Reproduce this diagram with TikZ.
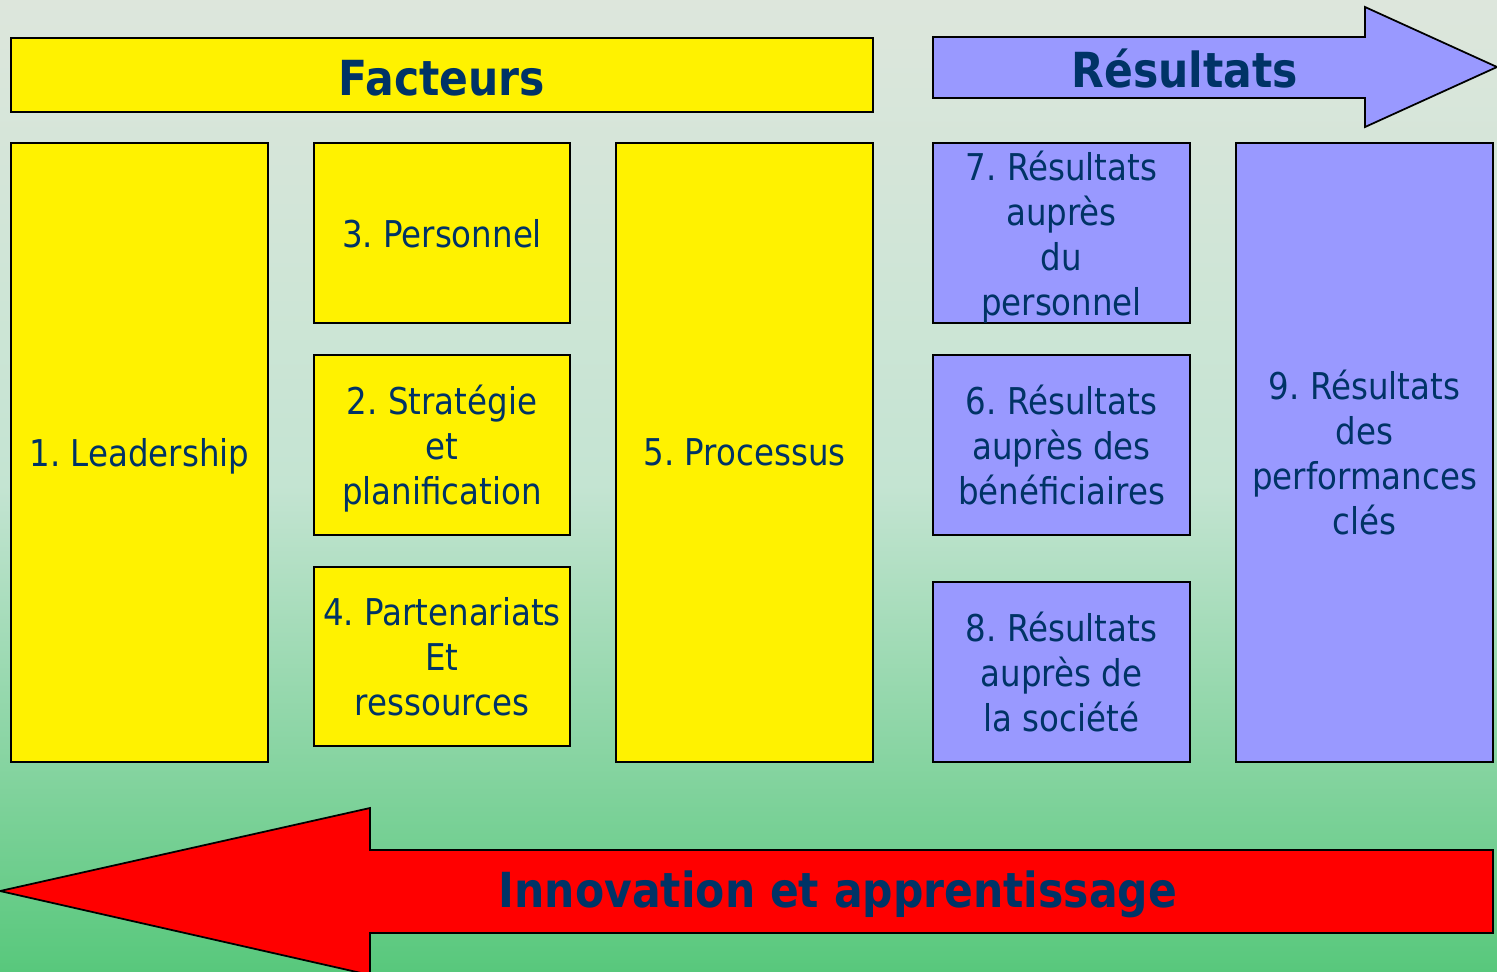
\documentclass[tikz,border=0pt]{standalone}
\usepackage{fontspec}
\setmainfont{DejaVu Sans}[FakeStretch=0.88]
\frenchspacing
\definecolor{navy}{HTML}{003366}
\definecolor{lilac}{HTML}{9999FF}
\definecolor{bgtop}{HTML}{DDE6DC}
\definecolor{bgmid}{HTML}{C4E4D2}
\definecolor{bgbot}{HTML}{58C87C}
\begin{document}
\begin{tikzpicture}[x=0.02cm,y=-0.02cm]
	\tikzset{
		base/.style={draw=black,line width=1pt,text=navy,align=center,inner sep=0pt,
			text depth=0pt,font=\fontsize{21}{25.6}\selectfont},
		yellowbox/.style={base,fill=yellow},
		lilacbox/.style={base,fill=lilac},
		size/.style 2 args={minimum width=#1*0.02cm,minimum height=#2*0.02cm},
		heading/.style={text=navy,font=\fontsize{27.5}{30}\selectfont\bfseries}
	}
	% Background
	\clip (0,0) rectangle (1497,971);
	\shade[top color=bgtop,bottom color=bgbot,middle color=bgmid] (0,0) rectangle (1497,971);

	% Header bars
	\node[yellowbox,size={862}{74}] (fact) at (442,75) {};
	\node[heading] (factlbl) at (442,78) {Facteurs};
	\draw[fill=lilac,line width=1pt] (933,37) -- (1365,37) -- (1365,7) -- (1497,67)
		-- (1365,127) -- (1365,98) -- (933,98) -- cycle;
	\node[heading] (res) at (1185,69) {Résultats};

	% Facteurs
	\node[yellowbox,size={257}{619}] (lead) at (139.5,452.5) {1. Leadership};
	\node[yellowbox,size={256}{180}] (pers) at (442,233) {3. Personnel};
	\node[yellowbox,size={256}{180}] (strat) at (442,445) {2. Stratégie\\et\\planification};
	\node[yellowbox,size={256}{179}] (part) at (442,656.5) {4. Partenariats\\Et\\ressources};
	\node[yellowbox,size={257}{619}] (proc) at (744.5,452.5) {5. Processus};

	% Résultats
	\node[lilacbox,size={257}{180}] (rpers) at (1061.5,233) {7. Résultats\\auprès\\du\\personnel};
	\node[lilacbox,size={257}{180}] (rbenef) at (1061.5,445) {6. Résultats\\auprès des\\bénéficiaires};
	\node[lilacbox,size={257}{180}] (rsoc) at (1061.5,672) {8. Résultats\\auprès de\\la société};
	\node[lilacbox,size={257}{619}] (rperf) at (1364.5,452.5) {9. Résultats\\des\\performances\\clés};

	% Innovation arrow
	\draw[fill=red,line width=1pt] (1493,850) -- (370,850) -- (370,808) -- (0,891)
		-- (370,975) -- (370,933) -- (1493,933) -- cycle;
	\node[heading] (innov) at (838,894) {Innovation et apprentissage};
\end{tikzpicture}
\end{document}
